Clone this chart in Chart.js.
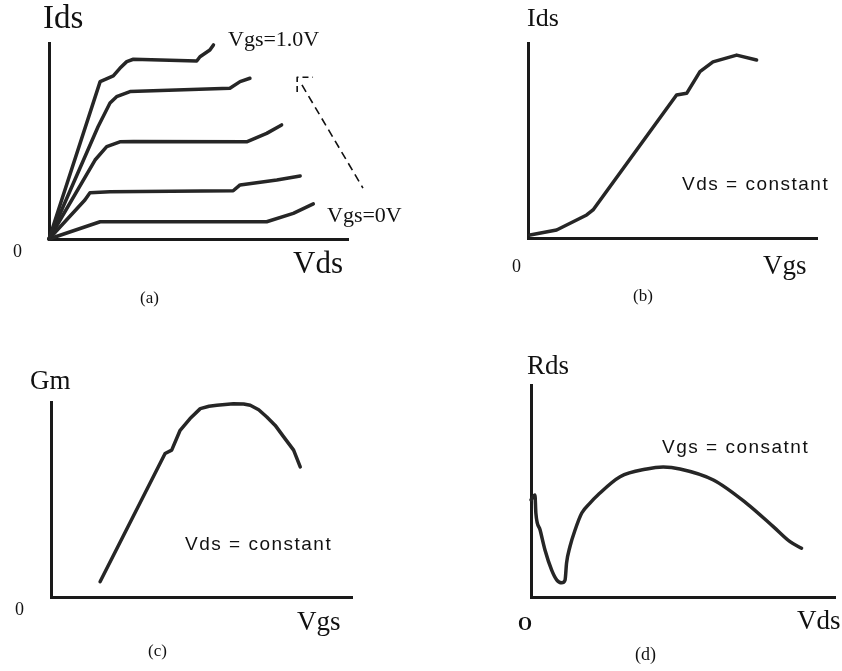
<!DOCTYPE html>
<html>
<head>
<meta charset="utf-8">
<script src="https://cdn.jsdelivr.net/npm/chart.js@4/dist/chart.umd.min.js"></script>
<style>
  html, body { margin: 0; padding: 0; background: #fff; }
  #page { position: relative; width: 842px; height: 671px; overflow: hidden; }
  canvas { position: absolute; }
  .lbl { position: absolute; line-height: 1; color: #111; white-space: pre; font-family: "Liberation Serif", "Times New Roman", serif; }
  .sans { font-family: "Liberation Sans", Arial, sans-serif; letter-spacing: 1.5px; }
</style>
</head>
<body>
<div id="page">
  <canvas id="cA" width="421" height="335" style="left:0;top:0"></canvas>
  <canvas id="cB" width="421" height="335" style="left:421px;top:0"></canvas>
  <canvas id="cC" width="421" height="336" style="left:0;top:335px"></canvas>
  <canvas id="cD" width="421" height="336" style="left:421px;top:335px"></canvas>

  <!-- (a) output characteristics -->
  <div class="lbl" style="left:43px;top:1px;font-size:33px">Ids</div>
  <div class="lbl" style="left:228px;top:28px;font-size:22px">Vgs=1.0V</div>
  <div class="lbl" style="left:327px;top:204px;font-size:22px">Vgs=0V</div>
  <div class="lbl" style="left:13px;top:242px;font-size:18px">0</div>
  <div class="lbl" style="left:293px;top:247px;font-size:31px">Vds</div>
  <div class="lbl" style="left:140px;top:289px;font-size:17px">(a)</div>

  <!-- (b) transfer curve -->
  <div class="lbl" style="left:527px;top:5px;font-size:26px">Ids</div>
  <div class="lbl sans" style="left:682px;top:174px;font-size:19px">Vds = constant</div>
  <div class="lbl" style="left:512px;top:257px;font-size:18px">0</div>
  <div class="lbl" style="left:763px;top:252px;font-size:27px">Vgs</div>
  <div class="lbl" style="left:633px;top:287px;font-size:17px">(b)</div>

  <!-- (c) transconductance -->
  <div class="lbl" style="left:30px;top:367px;font-size:27px">Gm</div>
  <div class="lbl sans" style="left:185px;top:534px;font-size:19px">Vds = constant</div>
  <div class="lbl" style="left:15px;top:600px;font-size:18px">0</div>
  <div class="lbl" style="left:297px;top:608px;font-size:27px">Vgs</div>
  <div class="lbl" style="left:148px;top:642px;font-size:17px">(c)</div>

  <!-- (d) output resistance -->
  <div class="lbl" style="left:527px;top:352px;font-size:27px">Rds</div>
  <div class="lbl sans" style="left:662px;top:437px;font-size:19px">Vgs = consatnt</div>
  <div class="lbl" style="left:518px;top:615px;font-size:18px;font-weight:bold">O</div>
  <div class="lbl" style="left:797px;top:607px;font-size:27px">Vds</div>
  <div class="lbl" style="left:635px;top:645px;font-size:18px">(d)</div>
</div>
<script>
// curve data, both axes on a 0..100 scale
const vdsA1 = [0, 17.1, 21.5, 23.7, 26, 28.2, 49.4, 50.5, 53.8, 55];
const idsA1 = [0, 80.3, 83.2, 87.1, 90.5, 91.7, 90.8, 93, 96.4, 99];
const vdsA2 = [0, 16.4, 20.4, 22.6, 27.1, 60.5, 63.9, 67.2];
const idsA2 = [0, 57.3, 69.4, 72.6, 75.2, 76.9, 80.3, 82];
const vdsA3 = [0, 15.4, 19.3, 23.7, 28.2, 66.1, 72.8, 77.8];
const idsA3 = [0, 40.3, 47.1, 49.6, 49.8, 49.6, 53.9, 58.2];
const vdsA4 = [0, 12, 13.7, 20.4, 61.6, 63.9, 76.2, 84];
const idsA4 = [0, 19.9, 23.6, 24.1, 24.6, 27.6, 30.1, 32.1];
const vdsA5 = [0, 17.1, 72.8, 81.7, 88.4];
const idsA5 = [0, 8.8, 8.8, 13.1, 17.9];
// dashed marker from Vgs=1.0V down to Vgs=0V
const markX = [83, 83, 88.3];
const markY = [75, 82.5, 82.5];
const arrowX = [84.6, 105];
const arrowY = [78.6, 26];

const vgsB = [0.7, 9.9, 20.3, 22.5, 51.4, 54.9, 59.5, 64, 72.2, 79.1];
const idsB = [1.5, 4.1, 11.8, 14.4, 73.3, 74.2, 85.3, 90.3, 93.8, 91.3];

const vgsC = [16.3, 37.9, 40.1, 42.9, 46.2, 49.6, 52.5, 55.1, 60.6, 64, 66.2, 69, 71.7, 74.5, 77.3, 80.6, 82.8];
const gmC = [7.8, 73.6, 75.3, 85.5, 91.5, 96.6, 97.8, 98.3, 99.1, 99, 98.3, 96, 92.3, 88, 82.1, 75.3, 66.7];

const vdsD = [0, 1.3, 1.6, 3, 4.6, 6.8, 8.5, 10.1, 11.2, 11.7, 12.8, 14.5, 16.7, 19.4, 22, 29.3, 38.1, 43.5, 49, 60, 70.9, 79.7, 85.2, 89];
const rdsD = [45.8, 48.1, 39.6, 31.6, 22.2, 12.7, 8, 6.7, 8, 16, 23.7, 31.6, 39.6, 44.3, 48.1, 56.7, 60.4, 61.3, 60.4, 55.2, 44.2, 33.2, 26.1, 23];

const INK = '#262626';
const AXIS = '#1a1a1a';

const pts = (xs, ys) => xs.map((x, i) => ({ x, y: ys[i] }));

function curve(xs, ys, extra) {
  return Object.assign({
    data: pts(xs, ys),
    borderColor: INK,
    borderWidth: 3.5,
    pointRadius: 0,
    tension: 0,
    borderCapStyle: 'round',
    borderJoinStyle: 'round',
    fill: false,
    clip: false
  }, extra || {});
}

function axis() {
  return {
    type: 'linear', min: 0, max: 100,
    grid: { display: false, drawTicks: false },
    ticks: { display: false },
    border: { display: true, width: 3, color: AXIS }
  };
}

function panel(id, datasets, pad) {
  return new Chart(document.getElementById(id), {
    type: 'line',
    data: { datasets },
    options: {
      responsive: false,
      animation: false,
      events: [],
      layout: { padding: pad },
      plugins: { legend: { display: false }, tooltip: { enabled: false } },
      scales: { x: axis(), y: axis() }
    }
  });
}

const smooth = { cubicInterpolationMode: 'monotone' };

panel('cA', [
  curve(vdsA1, idsA1),
  curve(vdsA2, idsA2),
  curve(vdsA3, idsA3),
  curve(vdsA4, idsA4),
  curve(vdsA5, idsA5),
  curve(markX, markY, { borderWidth: 1.6, borderDash: [6, 4], borderCapStyle: 'butt', borderColor: '#111' }),
  curve(arrowX, arrowY, { borderWidth: 1.6, borderDash: [8, 5], borderCapStyle: 'butt', borderColor: '#111' })
], { left: 49, top: 43, right: 73, bottom: 96 });

panel('cB', [curve(vgsB, idsB)], { left: 107, top: 43, right: 25, bottom: 97 });

panel('cC', [curve(vgsC, gmC)], { left: 51, top: 67, right: 69, bottom: 74 });

panel('cD', [curve(vdsD, rdsD, smooth)], { left: 110, top: 50, right: 7, bottom: 74 });
</script>
</body>
</html>
